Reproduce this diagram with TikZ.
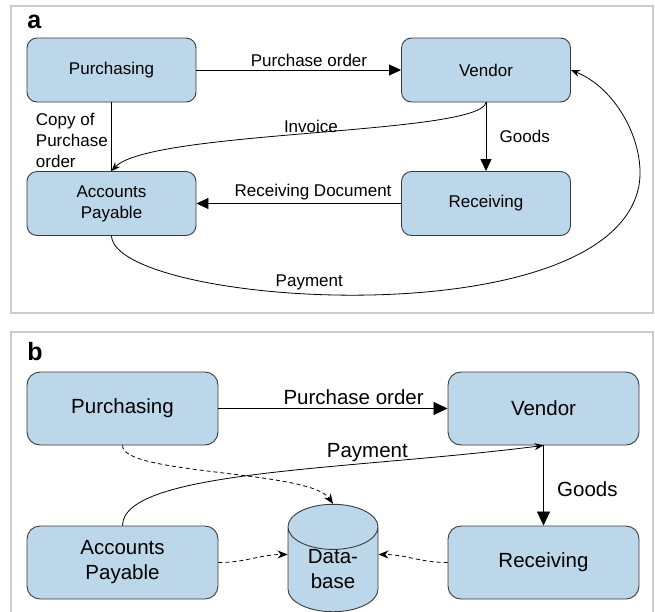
\documentclass[tikz,border=0pt]{standalone}
\usepackage{fontspec}
\setmainfont{Liberation Sans}
\usetikzlibrary{arrows.meta,shapes.geometric}
\definecolor{boxblue}{HTML}{BDD7EA}
\definecolor{framegray}{HTML}{CCCCCC}
\definecolor{edgegray}{HTML}{3A3A3A}

\begin{document}
\begin{tikzpicture}[
                %scale: one unit per pixel
                x=1pt, y=-1pt,
                line width=0.8pt,
                unit/.style={draw=edgegray,fill=boxblue,text=black,align=center,line width=0.9pt},
                unita/.style={unit,rounded corners=10pt,minimum width=169pt,minimum height=64pt,font=\fontsize{17}{21}\selectfont},
                unitb/.style={unit,rounded corners=13pt,minimum width=191pt,minimum height=73pt,font=\fontsize{20.5}{25}\selectfont},
                store/.style={unit,cylinder,shape border rotate=90,aspect=0.9,minimum width=90pt,minimum height=104pt,inner sep=0pt,font=\fontsize{20.5}{25}\selectfont},
                flowa/.style={-{Triangle[length=12pt,width=11pt]}},
                flowb/.style={-{Triangle[length=14pt,width=13pt]}},
                curveflow/.style={-{Stealth[length=9pt,width=7pt]}},
                dataflow/.style={dash pattern=on 4pt off 3pt,-{Stealth[length=10pt,width=8pt]}},
                lbla/.style={font=\fontsize{17}{21}\selectfont},
                lblb/.style={font=\fontsize{20.5}{25}\selectfont},
                panel/.style={draw=framegray,line width=2pt},
                tag/.style={font=\fontsize{25}{25}\selectfont\bfseries,anchor=base west,inner sep=0pt}] %

\fill[white] (0,0) rectangle (655,611);
\useasboundingbox (0,0) rectangle (655,611);

% panel a
                    \draw[panel] (11,6) rectangle (653,313);
                    \node[tag] (TAGA) at (27,28) {a};

                    % 1
                    \node[unita] (PURCH) at (111.5,70) {Purchasing};
                    \node[unita] (VEND) at (486,70) {Vendor};
                    \draw[flowa] (PURCH) -- node[lbla,above,pos=0.55] {Purchase order} (VEND);

                    % 2
                    \node[unita] (ACCP) at (111.5,203.5) {Accounts\\Payable};
                    \draw (PURCH) -- node[lbla,left,align=left,pos=0.55] {Copy of\\Purchase\\order} (ACCP);
                    \draw[curveflow] (VEND.south) .. controls (480,135) and (150,130) .. node[lbla,above,inner sep=0.5pt] {Invoice} (ACCP.north);

                    % 3
                    \node[unita] (RECV) at (486,203.5) {Receiving};
                    \draw[flowa] (VEND) -- node[lbla,right=10pt] {Goods} (RECV);
                    \draw[flowa] (RECV) -- node[lbla,above,inner sep=3pt,pos=0.43] {Receiving Document} (ACCP);

                    % 4
                    \draw[curveflow] (ACCP.south) .. controls (115,305) and (600,340) .. node[lbla,above,pos=0.43] {Payment} (638,190)
                                     .. controls (648,150) and (620,90) .. (VEND.east);

%%%%%%%%%%%%%%%%%%%%%%%%%%%%%%%%%%%%%%%%%%%%%%%%%%%%%%%%%%%%%%%%%%%%%%%%%%%%%%%%%%%%

% panel b
                    \draw[panel] (11,332) rectangle (653,630);
                    \node[tag] (TAGB) at (27,360) {b};

                    % 1
                    \node[unitb] (PURCHB) at (122.5,408.5) {Purchasing};
                    \node[unitb] (VENDB) at (543.5,408.5) {Vendor};
                    \draw[flowb] (PURCHB) -- node[lblb,above,pos=0.59] {Purchase order} (VENDB);

                    % 2
                    \node[unitb] (ACCPB) at (122.5,562.5) {Accounts\\Payable};
                    \node[unitb] (RECVB) at (543.5,562.5) {Receiving};
                    \draw[flowb] (VENDB) -- node[lblb,right=10pt,pos=0.55] {Goods} (RECVB);
                    \draw[curveflow] (ACCPB.north) .. controls (123,470) and (350,470) .. node[lblb,above,inner sep=0.5pt,pos=0.7] {Payment} (VENDB.south);

                    % 3
                    \node[store,anchor=shape center] (DBASE) at (333,558) {Data-\\base};
                    \draw[dataflow] (PURCHB.south) .. controls (122,475) and (310,470) .. (DBASE.north);
                    \draw[dataflow] (ACCPB.east) to[out=0,in=180] ([yshift=15pt]DBASE.west);
                    \draw[dataflow] (RECVB.west) to[out=180,in=0] ([yshift=15pt]DBASE.east);

\end{tikzpicture}
\end{document}
